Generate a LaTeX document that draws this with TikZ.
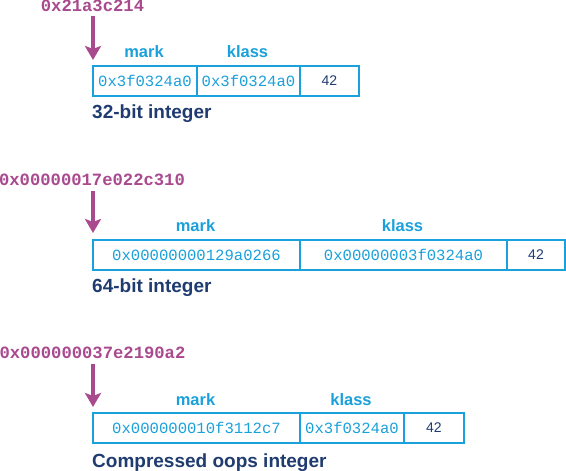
\documentclass[tikz,border=0pt]{standalone}
\usepackage{fontspec}
\setmainfont{Liberation Sans}
\newfontfamily\monofont{Liberation Mono}
\usetikzlibrary{arrows.meta}
\definecolor{cellblue}{HTML}{1AA0DA}
\definecolor{addrmag}{HTML}{A94A8F}
\definecolor{navy}{HTML}{1F3B6F}
\tikzset{
  cell/.style={draw=cellblue, line width=2pt, anchor=north west, inner sep=0pt,
    minimum height=30pt, font=\monofont\fontsize{15.6}{15.6}\selectfont, text=cellblue},
  numcell/.style={cell, font=\fontsize{14}{14}\selectfont, text=navy},
  fieldlbl/.style={anchor=base, inner sep=0pt, text=cellblue,
    font=\bfseries\fontsize{16.5}{16.5}\selectfont},
  title/.style={anchor=base west, inner sep=0pt, text=navy,
    font=\bfseries\fontsize{19}{19}\selectfont},
  addr/.style={anchor=base, inner sep=0pt, text=addrmag,
    font=\monofont\bfseries\fontsize{17.2}{17.2}\selectfont},
  ptr/.style={draw=addrmag, line width=3.5pt,
    -{Stealth[width=16pt,length=14pt,inset=3pt]}},
}
\begin{document}
\begin{tikzpicture}[x=1pt,y=-1pt]
\useasboundingbox (0,0) rectangle (566,471);
% ---- 32-bit
\node[addr] (a1) at (92.5,11) {0x21a3c214};
\coordinate (s1) at (93,16);
\coordinate (t1) at (93,60);
\draw[ptr] (s1) -- (t1);
\node[cell, minimum width=104pt] (m1) at (92,65) {0x3f0324a0};
\node[cell, minimum width=103pt] (k1) at (196,65) {0x3f0324a0};
\node[numcell, minimum width=59pt] (v1) at (299,65) {42};
\node[fieldlbl] (lm1) at (144,57) {mark};
\node[fieldlbl] (lk1) at (247.5,57) {klass};
\node[title] (ti1) at (92,118) {32-bit integer};
% ---- 64-bit
\node[addr] (a2) at (92,185) {0x00000017e022c310};
\coordinate (s2) at (93,191);
\coordinate (t2) at (93,233);
\draw[ptr] (s2) -- (t2);
\node[cell, minimum width=207pt] (m2) at (92,239) {0x00000000129a0266};
\node[cell, minimum width=207pt] (k2) at (299,239) {0x00000003f0324a0};
\node[numcell, minimum width=58pt] (v2) at (506,239) {42};
\node[fieldlbl] (lm2) at (195.5,231) {mark};
\node[fieldlbl] (lk2) at (402.5,231) {klass};
\node[title] (ti2) at (92,292) {64-bit integer};
% ---- compressed oops
\node[addr] (a3) at (92.5,358) {0x000000037e2190a2};
\coordinate (s3) at (93,364);
\coordinate (t3) at (93,407);
\draw[ptr] (s3) -- (t3);
\node[cell, minimum width=207pt] (m3) at (92,412) {0x000000010f3112c7};
\node[cell, minimum width=104pt] (k3) at (299,412) {0x3f0324a0};
\node[numcell, minimum width=60pt] (v3) at (403,412) {42};
\node[fieldlbl] (lm3) at (195.5,405) {mark};
\node[fieldlbl] (lk3) at (351,405) {klass};
\node[title] (ti3) at (92,467) {Compressed oops integer};
\end{tikzpicture}
\end{document}
